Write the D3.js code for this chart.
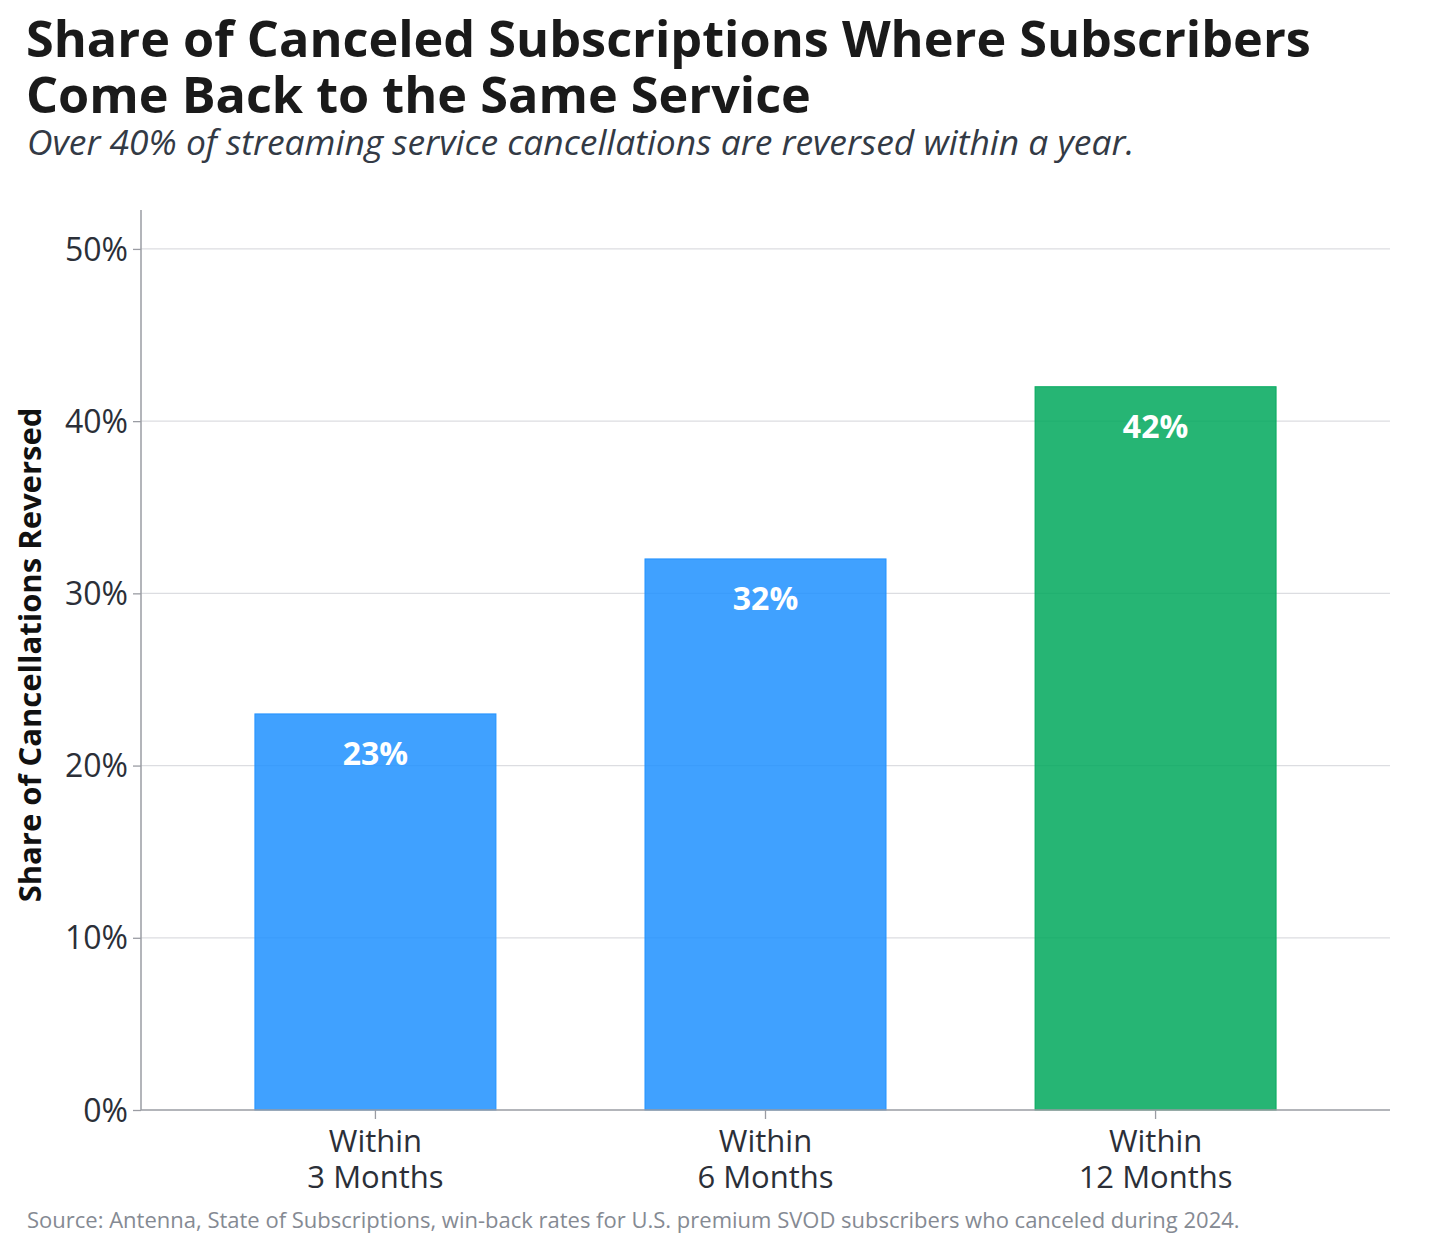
<!DOCTYPE html>
<html>
<head>
<meta charset="utf-8">
<script src="https://cdn.jsdelivr.net/npm/d3@7"></script>
<style>
  body { margin: 0; background: #fff; }
  svg { font-family: 'Open Sans', 'Noto Sans', sans-serif; }
</style>
</head>
<body>
<div class="canvas"></div>
<script>
const categories = ['Within|3 Months', 'Within|6 Months', 'Within|12 Months'];
const values = [23, 32, 42];
const barColors = ['#1e90ff', '#1e90ff', '#00a85c'];
const yTicks = [0, 10, 20, 30, 40, 50];

const width = 1456;
const height = 1247;
const margin = { top: 210, right: 66, bottom: 137, left: 141 };

const svg = d3.select('.canvas')
  .append('svg')
  .attr('width', width)
  .attr('height', height);

const x = d3.scaleBand()
  .domain(categories)
  .range([margin.left, width - margin.right])
  .paddingInner(0.382)
  .paddingOuter(0.292);

const y = d3.scaleLinear()
  .domain([0, 52.26])
  .range([height - margin.bottom, margin.top]);

// gridlines
svg.append('g')
  .selectAll('line')
  .data(yTicks.filter(d => d > 0))
  .enter().append('line')
  .attr('x1', margin.left)
  .attr('x2', width - margin.right)
  .attr('y1', d => y(d))
  .attr('y2', d => y(d))
  .attr('stroke', '#dcdde1')
  .attr('stroke-width', 1.3);

// bars
svg.append('g')
  .selectAll('rect')
  .data(values)
  .enter().append('rect')
  .attr('x', (d, i) => x(categories[i]))
  .attr('y', d => y(d))
  .attr('width', x.bandwidth())
  .attr('height', d => y(0) - y(d))
  .attr('fill', (d, i) => barColors[i])
  .attr('fill-opacity', 0.85)
  .attr('stroke', (d, i) => barColors[i])
  .attr('stroke-opacity', 0.9)
  .attr('stroke-width', 1);

// value labels
svg.append('g')
  .selectAll('text')
  .data(values)
  .enter().append('text')
  .attr('x', (d, i) => x(categories[i]) + x.bandwidth() / 2)
  .attr('y', d => y(d) + 51)
  .attr('text-anchor', 'middle')
  .attr('fill', '#fff')
  .attr('font-size', 32)
  .attr('font-weight', 700)
  .text(d => d + '%');

// y axis
const yAxis = d3.axisLeft(y)
  .tickValues(yTicks)
  .tickSize(8)
  .tickPadding(5)
  .tickFormat(d => d + '%');

const yAxisGroup = svg.append('g')
  .attr('transform', `translate(${margin.left}, 0)`)
  .call(yAxis);
yAxisGroup.select('.domain').attr('stroke', '#9a9ca3').attr('stroke-width', 1.5)
  .attr('d', `M0,${margin.top}V${height - margin.bottom}`);
yAxisGroup.selectAll('.tick line').attr('stroke', '#9a9ca3').attr('stroke-width', 1.3);
yAxisGroup.selectAll('.tick text')
  .attr('font-size', 32)
  .attr('fill', '#2b2f38')
  .attr('font-family', "'Open Sans', sans-serif")
  .attr('dy', '0.35em');

// x axis
const xAxis = d3.axisBottom(x).tickSize(9).tickFormat('');
const xAxisGroup = svg.append('g')
  .attr('transform', `translate(0, ${height - margin.bottom})`)
  .call(xAxis);
xAxisGroup.select('.domain').attr('stroke', '#9a9ca3').attr('stroke-width', 1.5)
  .attr('d', `M${margin.left},0H${width - margin.right}`);
xAxisGroup.selectAll('.tick line').attr('stroke', '#9a9ca3').attr('stroke-width', 1.3);
xAxisGroup.selectAll('.tick').each(function (d) {
  const t = d3.select(this).append('text')
    .attr('text-anchor', 'middle')
    .attr('fill', '#2b2f38')
    .attr('font-size', 31)
    .attr('font-family', "'Open Sans', sans-serif");
  d.split('|').forEach((part, i) => {
    t.append('tspan').attr('x', 0).attr('y', 42 + i * 36).text(part);
  });
});

// y axis title
svg.append('text')
  .attr('transform', `translate(41, ${(margin.top + height - margin.bottom) / 2 - 5}) rotate(-90)`)
  .attr('text-anchor', 'middle')
  .attr('font-size', 31)
  .attr('font-weight', 700)
  .attr('fill', '#111')
  .text('Share of Cancellations Reversed');

// titles
const title = svg.append('text')
  .attr('x', 26)
  .attr('font-size', 50.4)
  .attr('font-weight', 700)
  .attr('fill', '#1a1a1a');
title.append('tspan').attr('x', 26).attr('y', 57).text('Share of Canceled Subscriptions Where Subscribers');
title.append('tspan').attr('x', 26).attr('y', 113).text('Come Back to the Same Service');

svg.append('text')
  .attr('x', 27)
  .attr('y', 155)
  .attr('font-size', 35.4)
  .attr('font-style', 'italic')
  .attr('fill', '#333a45')
  .text('Over 40% of streaming service cancellations are reversed within a year.');

svg.append('text')
  .attr('x', 27)
  .attr('y', 1228)
  .attr('font-size', 22)
  .attr('fill', '#858a93')
  .text('Source: Antenna, State of Subscriptions, win-back rates for U.S. premium SVOD subscribers who canceled during 2024.');
</script>
</body>
</html>
